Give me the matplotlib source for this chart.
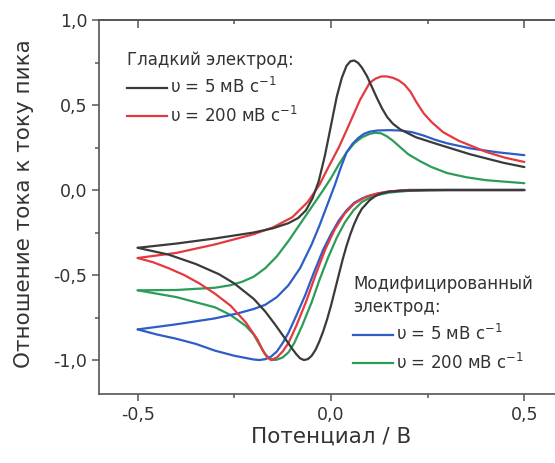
import matplotlib
matplotlib.use("Agg")
import matplotlib.pyplot as plt
from matplotlib.ticker import FixedLocator, FuncFormatter
from matplotlib.lines import Line2D

# --- data (potential in V, current / peak current) ---
# smooth electrode, 5 mV/s
smooth5_fwd_x = [-0.5, -0.4, -0.3, -0.2, -0.15, -0.11, -0.085, -0.065, -0.048, -0.032,
                 -0.016, 0.0, 0.015, 0.028, 0.04, 0.05, 0.06, 0.07, 0.08, 0.093,
                 0.105, 0.119, 0.132, 0.145, 0.16, 0.18, 0.22, 0.275, 0.36, 0.446, 0.5]
smooth5_fwd_y = [-0.34, -0.315, -0.285, -0.25, -0.225, -0.195, -0.165, -0.12, -0.05, 0.05,
                 0.2, 0.38, 0.55, 0.66, 0.73, 0.757, 0.762, 0.748, 0.72, 0.67,
                 0.61, 0.54, 0.48, 0.43, 0.39, 0.355, 0.31, 0.27, 0.21, 0.16, 0.135]
smooth5_rev_x = [0.5, 0.25, 0.18, 0.15, 0.13, 0.115, 0.1, 0.09, 0.08, 0.07, 0.06, 0.05,
                 0.04, 0.03, 0.02, 0.01, 0.0, -0.01, -0.02, -0.03, -0.04, -0.05, -0.06,
                 -0.07, -0.08, -0.09, -0.1, -0.12, -0.145, -0.17, -0.2, -0.25, -0.29,
                 -0.35, -0.42, -0.5]
smooth5_rev_y = [0.0, 0.0, -0.004, -0.01, -0.02, -0.035, -0.06, -0.085, -0.11, -0.15,
                 -0.2, -0.26, -0.33, -0.41, -0.5, -0.59, -0.68, -0.76, -0.83, -0.89,
                 -0.94, -0.975, -0.995, -1.0, -0.99, -0.965, -0.935, -0.87, -0.79,
                 -0.715, -0.64, -0.55, -0.495, -0.435, -0.38, -0.34]

# smooth electrode, 200 mV/s
smooth200_fwd_x = [-0.5, -0.4, -0.3, -0.2, -0.15, -0.1, -0.06, -0.03, -0.01, 0.02,
                   0.04, 0.075, 0.1, 0.115, 0.13, 0.145, 0.16, 0.175, 0.19, 0.205,
                   0.22, 0.24, 0.26, 0.29, 0.33, 0.4, 0.45, 0.5]
smooth200_fwd_y = [-0.4, -0.37, -0.32, -0.26, -0.22, -0.16, -0.07, 0.03, 0.12, 0.25,
                   0.35, 0.53, 0.63, 0.655, 0.668, 0.668, 0.66, 0.645, 0.62, 0.58,
                   0.52, 0.45, 0.4, 0.34, 0.29, 0.225, 0.19, 0.165]
smooth200_rev_x = [0.5, 0.2, 0.15, 0.12, 0.09, 0.06, 0.035, 0.01, -0.015, -0.04,
                   -0.065, -0.09, -0.11, -0.125, -0.14, -0.155, -0.165, -0.175, -0.19,
                   -0.22, -0.26, -0.3, -0.34, -0.38, -0.42, -0.46, -0.5]
smooth200_rev_y = [0.0, 0.0, -0.008, -0.02, -0.04, -0.08, -0.14, -0.23, -0.35, -0.5,
                   -0.66, -0.8, -0.9, -0.95, -0.985, -1.0, -0.985, -0.95, -0.88,
                   -0.78, -0.68, -0.61, -0.55, -0.5, -0.46, -0.425, -0.4]

# modified electrode, 5 mV/s
mod5_fwd_x = [-0.5, -0.4, -0.3, -0.24, -0.2, -0.17, -0.14, -0.11, -0.08, -0.05, -0.03,
              -0.01, 0.01, 0.025, 0.04, 0.055, 0.07, 0.085, 0.1, 0.12, 0.15, 0.18,
              0.21, 0.24, 0.27, 0.3, 0.36, 0.43, 0.5]
mod5_fwd_y = [-0.82, -0.79, -0.755, -0.725, -0.7, -0.675, -0.63, -0.56, -0.46, -0.32,
              -0.21, -0.09, 0.03, 0.13, 0.22, 0.27, 0.305, 0.33, 0.343, 0.35, 0.352,
              0.35, 0.34, 0.32, 0.295, 0.275, 0.245, 0.222, 0.205]
mod5_rev_x = [0.5, 0.2, 0.15, 0.12, 0.1, 0.08, 0.06, 0.04, 0.02, 0.0, -0.02, -0.045,
              -0.067, -0.09, -0.11, -0.125, -0.14, -0.155, -0.17, -0.185, -0.2, -0.25,
              -0.3, -0.35, -0.4, -0.45, -0.5]
mod5_rev_y = [0.0, 0.0, -0.01, -0.022, -0.033, -0.05, -0.075, -0.12, -0.18, -0.26,
              -0.35, -0.49, -0.62, -0.74, -0.84, -0.9, -0.95, -0.98, -0.995, -1.0,
              -0.997, -0.975, -0.945, -0.905, -0.875, -0.85, -0.82]

# modified electrode, 200 mV/s
mod200_fwd_x = [-0.5, -0.4, -0.3, -0.26, -0.23, -0.2, -0.17, -0.14, -0.11, -0.08,
                -0.05, -0.02, 0.0, 0.02, 0.04, 0.06, 0.08, 0.1, 0.115, 0.13, 0.145,
                0.16, 0.18, 0.2, 0.23, 0.26, 0.3, 0.35, 0.4, 0.5]
mod200_fwd_y = [-0.59, -0.588, -0.575, -0.56, -0.54, -0.51, -0.46, -0.39, -0.3, -0.2,
                -0.1, 0.0, 0.07, 0.15, 0.22, 0.275, 0.31, 0.33, 0.337, 0.333, 0.315,
                0.29, 0.25, 0.21, 0.17, 0.135, 0.1, 0.075, 0.058, 0.04]
mod200_rev_x = [0.5, 0.3, 0.2, 0.15, 0.11, 0.08, 0.058, 0.036, 0.015, -0.008, -0.03,
                -0.05, -0.075, -0.095, -0.11, -0.125, -0.14, -0.15, -0.16, -0.17,
                -0.185, -0.2, -0.22, -0.26, -0.3, -0.35, -0.4, -0.45, -0.5]
mod200_rev_y = [0.0, 0.0, -0.005, -0.015, -0.035, -0.07, -0.12, -0.19, -0.28, -0.4,
                -0.53, -0.66, -0.8, -0.9, -0.955, -0.985, -0.998, -1.0, -0.99, -0.965,
                -0.91, -0.85, -0.8, -0.735, -0.69, -0.66, -0.63, -0.61, -0.59]

x_major = [-0.5, 0.0, 0.5]
x_minor = [-0.25, 0.25]
y_major = [-1.0, -0.5, 0.0, 0.5, 1.0]
y_minor = [-0.75, -0.25, 0.25, 0.75]

BLACK = "#3a3a3a"
RED = "#e5383f"
BLUE = "#2d5dc6"
GREEN = "#2b9d58"
AX = "#555555"
TXT = "#333333"

plt.rcParams["font.family"] = "DejaVu Sans"

fig = plt.figure(figsize=(5.55, 4.63), dpi=100)
ax = fig.add_axes([0.1784, 0.149, 0.836, 0.8078])

lw = 1.6
kw = dict(lw=lw, solid_joinstyle="round", solid_capstyle="round")
ax.plot(mod200_fwd_x, mod200_fwd_y, color=GREEN, **kw)
ax.plot(mod200_rev_x, mod200_rev_y, color=GREEN, **kw)
ax.plot(mod5_fwd_x, mod5_fwd_y, color=BLUE, **kw)
ax.plot(mod5_rev_x, mod5_rev_y, color=BLUE, **kw)
ax.plot(smooth200_fwd_x, smooth200_fwd_y, color=RED, **kw)
ax.plot(smooth200_rev_x, smooth200_rev_y, color=RED, **kw)
ax.plot(smooth5_fwd_x, smooth5_fwd_y, color=BLACK, **kw)
ax.plot(smooth5_rev_x, smooth5_rev_y, color=BLACK, **kw)

ax.set_xlim(-0.6, 0.6)
ax.set_ylim(-1.2, 1.0)

comma = FuncFormatter(lambda v, p: ("%.1f" % v).replace(".", ","))
ax.xaxis.set_major_locator(FixedLocator(x_major))
ax.xaxis.set_minor_locator(FixedLocator(x_minor))
ax.yaxis.set_major_locator(FixedLocator(y_major))
ax.yaxis.set_minor_locator(FixedLocator(y_minor))
ax.xaxis.set_major_formatter(comma)
ax.yaxis.set_major_formatter(comma)

for s in ax.spines.values():
    s.set_color(AX)
    s.set_linewidth(1.2)
ax.tick_params(which="both", direction="out", colors=AX, width=1.1, labelsize=12.5,
               labelcolor=TXT)
ax.tick_params(which="major", length=5)
ax.tick_params(which="minor", length=3)

top = ax.secondary_xaxis("top")
top.xaxis.set_major_locator(FixedLocator(x_major))
top.xaxis.set_minor_locator(FixedLocator(x_minor))
top.tick_params(which="both", direction="in", colors=AX, width=1.1, labeltop=False)
top.tick_params(which="major", length=6)
top.tick_params(which="minor", length=3)
top.spines["top"].set_color(AX)
top.spines["top"].set_linewidth(1.2)

ax.set_xlabel("Потенциал / В", fontsize=15.5, color=TXT)
ax.set_ylabel("Отношение тока к току пика", fontsize=15.5, color=TXT)
ax.xaxis.set_label_coords(0.5, -0.087)
ax.yaxis.set_label_coords(-0.14, 0.51)

lab5 = "υ = 5 мВ с$^{-1}$"
lab200 = "υ = 200 мВ с$^{-1}$"

leg_kw = dict(loc="upper left", bbox_transform=fig.transFigure, frameon=False,
              fontsize=12, title_fontsize=12, borderpad=0, handlelength=2.4,
              handletextpad=0.2, labelspacing=0.5, alignment="left", borderaxespad=0)

leg1 = ax.legend([Line2D([], [], color=BLACK, lw=lw), Line2D([], [], color=RED, lw=lw)],
                 [lab5, lab200], title="Гладкий электрод:",
                 bbox_to_anchor=(127 / 555, 1 - 51 / 463), **leg_kw)
for t in leg1.get_texts() + [leg1.get_title()]:
    t.set_color(TXT)
ax.add_artist(leg1)

leg2 = ax.legend([Line2D([], [], color=BLUE, lw=lw), Line2D([], [], color=GREEN, lw=lw)],
                 [lab5, lab200], title="Модифицированный\nэлектрод:",
                 bbox_to_anchor=(353 / 555, 1 - 275 / 463), **leg_kw)
leg2.get_title().set_linespacing(1.35)
for t in leg2.get_texts() + [leg2.get_title()]:
    t.set_color(TXT)

fig.savefig("out.png", dpi=100, facecolor="white")
